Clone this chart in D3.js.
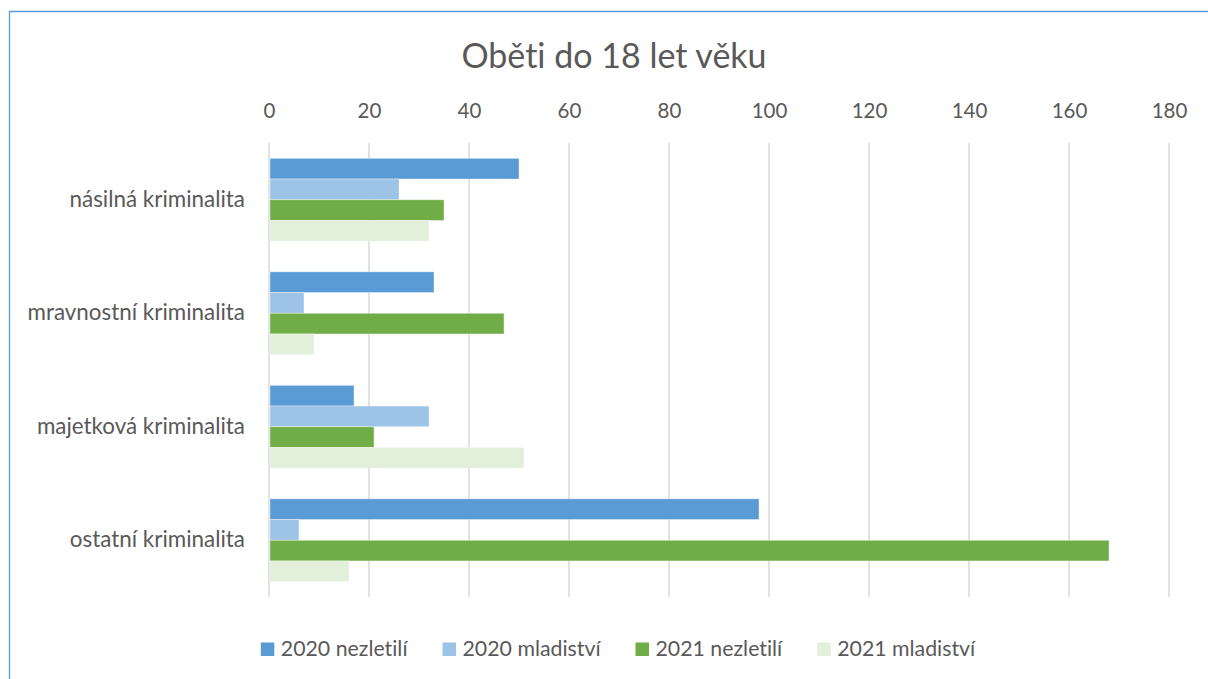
<!DOCTYPE html>
<html>
<head>
<meta charset="utf-8">
<script src="https://cdn.jsdelivr.net/npm/d3@7"></script>
<style>
  body { margin: 0; background: #fff; }
  text { font-family: Lato, "Open Sans", sans-serif; fill: #595959; font-variant-ligatures: none; }
</style>
</head>
<body>
<div id="chart"></div>
<script>
var categories = ["násilná kriminalita", "mravnostní kriminalita", "majetková kriminalita", "ostatní kriminalita"];
var seriesNames = ["2020 nezletilí", "2020 mladiství", "2021 nezletilí", "2021 mladiství"];
var colors = ["#5B9BD5", "#9DC3E6", "#70AD47", "#E2EFDA"];
var v2020nez = [50, 33, 17, 98];
var v2020mla = [26, 7, 32, 6];
var v2021nez = [35, 47, 21, 168];
var v2021mla = [32, 9, 51, 16];
var tickValues = [0, 20, 40, 60, 80, 100, 120, 140, 160, 180];

var series = [v2020nez, v2020mla, v2021nez, v2021mla];

var w = 1208, h = 679,
    p = {"top": 143, "bot": 597, "left": 269, "right": 1169};

var svg = d3.select("#chart").append("svg")
  .attr("width", w)
  .attr("height", h)

// chart frame (only top and left edges are visible)
svg.append("path")
  .attr("d", "M9.5," + h + "V11.5H" + w)
  .attr("fill", "none")
  .attr("stroke", "#5B9BD5")
  .attr("stroke-width", 1.3)

svg.append("text")
  .attr("x", 614)
  .attr("y", 68)
  .style("text-anchor", "middle")
  .style("font-size", "34px")
  .text("Oběti do 18 let věku")

var xScale = d3.scaleLinear()
  .domain([0, 180])
  .range([p.left, p.right])

var yScale = d3.scaleBand()
  .domain(categories)
  .range([p.top, p.bot])
  .paddingInner(0.27)
  .paddingOuter(0.135)

var ySub = d3.scaleBand()
  .domain(d3.range(seriesNames.length))
  .range([0, yScale.bandwidth()])

// gridlines
svg.selectAll(".grid")
  .data(tickValues)
  .enter()
    .append("line")
      .attr("x1", function(d){ return xScale(d) })
      .attr("x2", function(d){ return xScale(d) })
      .attr("y1", p.top)
      .attr("y2", p.bot)
      .attr("stroke", "#D9D9D9")
      .attr("stroke-width", 1.5)

var xAxis = d3.axisTop(xScale).tickValues(tickValues).tickSize(0).tickPadding(0);
var gx = svg.append("g")
  .attr("transform", "translate(0,118)")
  .call(xAxis)
gx.select(".domain").remove()
gx.selectAll("text")
  .style("font-size", "20.5px")
  .style("font-family", "Lato, sans-serif")
  .attr("fill", "#595959")

// category labels
svg.selectAll(".cat")
  .data(categories)
  .enter()
    .append("text")
      .attr("x", 245)
      .attr("y", function(d){ return yScale(d) + yScale.bandwidth() / 2 + 7 })
      .style("text-anchor", "end")
      .style("font-size", "22.4px")
      .text(function(d){ return d })

// bars
series.forEach(function(vals, si){
  svg.selectAll(".bar" + si)
    .data(vals)
    .enter()
      .append("rect")
        .attr("x", xScale(0) + 1)
        .attr("y", function(d, i){ return yScale(categories[i]) + ySub(si) })
        .attr("width", function(d){ return xScale(d) - xScale(0) - 1 })
        .attr("height", ySub.bandwidth())
        .attr("fill", colors[si])
        .attr("stroke", "#fff")
        .attr("stroke-opacity", 0.5)
        .attr("stroke-width", 0.75)
})

// legend
var legend = svg.append("g")
var lx = 0;
seriesNames.forEach(function(name, i){
  var item = legend.append("g").attr("transform", "translate(" + lx + ",0)")
  item.append("rect")
    .attr("x", 0)
    .attr("y", -13.5)
    .attr("width", 13.5)
    .attr("height", 13.5)
    .attr("fill", colors[i])
  var t = item.append("text")
    .attr("x", 20)
    .attr("y", 0)
    .style("font-size", "21.3px")
    .text(name)
  lx += 20 + t.node().getComputedTextLength() + 35;
})
lx -= 35;
legend.attr("transform", "translate(" + (618 - lx / 2) + ",656)")
</script>
</body>
</html>
